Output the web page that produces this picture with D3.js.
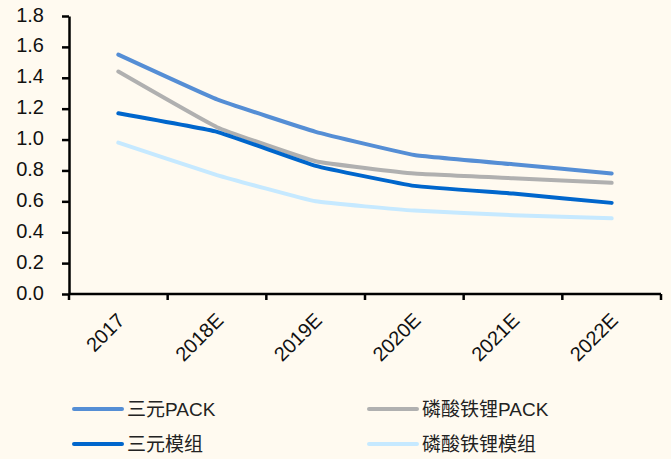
<!DOCTYPE html>
<html><head><meta charset="utf-8">
<script src="https://cdn.jsdelivr.net/npm/d3@7"></script>
<style>
html,body{margin:0;padding:0;background:#FFFAF0;}
svg{display:block;}
</style></head>
<body>
<svg id="chart" width="671" height="459"></svg>
<script>
const categories = ["2017","2018E","2019E","2020E","2021E","2022E"];
const seriesNames = ["三元PACK","磷酸铁锂PACK","三元模组","磷酸铁锂模组"];
const sanyuanPack = [1.55,1.26,1.05,0.90,0.84,0.78];
const lfpPack = [1.44,1.08,0.86,0.78,0.75,0.72];
const sanyuanModule = [1.17,1.05,0.83,0.70,0.65,0.59];
const lfpModule = [0.98,0.77,0.60,0.54,0.51,0.49];
const yTicks = [0,0.2,0.4,0.6,0.8,1.0,1.2,1.4,1.6,1.8];
const colors = ["#558ED5","#B0B0B0","#0066CC","#C6E9FF"];

(function(){
const seriesValues = [sanyuanPack, lfpPack, sanyuanModule, lfpModule];
const svg = d3.select("#chart");
const W = 671, H = 459;
svg.append("rect").attr("width",W).attr("height",H).attr("fill","#FFFAF0");

const mLeft = 69, mRight = 661, mTop = 16, mBottom = 294;
const x = d3.scaleBand().domain(categories).range([mLeft,mRight]);
const y = d3.scaleLinear().domain([0,1.8]).range([mBottom,mTop]);

const font = "'Liberation Sans', Arial, 'Noto Sans CJK SC', sans-serif";

// Y axis
const yAxis = svg.append("g").attr("transform",`translate(${mLeft},0)`)
  .call(d3.axisLeft(y).tickValues(yTicks).tickFormat(d3.format(".1f")).tickSize(7).tickPadding(18).tickSizeOuter(0));
yAxis.select(".domain").attr("stroke","#000").attr("stroke-width",2.5);
yAxis.selectAll(".tick line").attr("stroke","#000").attr("stroke-width",2.5);
yAxis.selectAll("text").attr("font-family",font).attr("font-size",20).attr("fill","#111").attr("dy","0.25em");

// X axis
const xAxis = svg.append("g").attr("transform",`translate(0,${mBottom})`)
  .call(d3.axisBottom(x).tickSize(0).tickFormat(""));
xAxis.select(".domain").attr("stroke","#000").attr("stroke-width",2.5).attr("d",`M${mLeft},0H${mRight}`);
const bounds = categories.map(c => x(c)).concat([mRight]);
xAxis.selectAll(".bt").data(bounds).enter().append("line")
  .attr("x1",d=>d).attr("x2",d=>d).attr("y1",0).attr("y2",6)
  .attr("stroke","#000").attr("stroke-width",2.5);
svg.append("g").selectAll("text").data(categories).enter().append("text")
  .attr("transform",d=>`translate(${x(d)+x.bandwidth()/2-3},${mBottom+17}) rotate(-45)`)
  .attr("text-anchor","end").attr("dy","0.75em")
  .attr("font-family",font).attr("font-size",20).attr("fill","#111")
  .text(d=>d);

// Lines
const line = d3.line()
  .x((d,i)=>x(categories[i])+x.bandwidth()/2)
  .y(d=>y(d))
  .curve(d3.curveCardinal.tension(0.7));
svg.append("g").selectAll("path").data(seriesValues).enter().append("path")
  .attr("d",d=>line(d)).attr("fill","none")
  .attr("stroke",(d,i)=>colors[i]).attr("stroke-width",4)
  .attr("stroke-linecap","round").attr("stroke-linejoin","round");

// Legend
const legPos = [[74,409],[369,409],[74,444],[369,444]];
const leg = svg.append("g").selectAll("g").data(seriesNames).enter().append("g")
  .attr("transform",(d,i)=>`translate(${legPos[i][0]},${legPos[i][1]})`);
leg.append("line").attr("x1",0).attr("x2",48).attr("y1",0).attr("y2",0)
  .attr("stroke",(d,i)=>colors[i]).attr("stroke-width",4).attr("stroke-linecap","round");
leg.append("text").attr("x",53).attr("y",0).attr("dy","0.35em")
  .attr("font-family",font).attr("font-size",19).attr("fill","#222")
  .text(d=>d);
})();
</script>
</body></html>
